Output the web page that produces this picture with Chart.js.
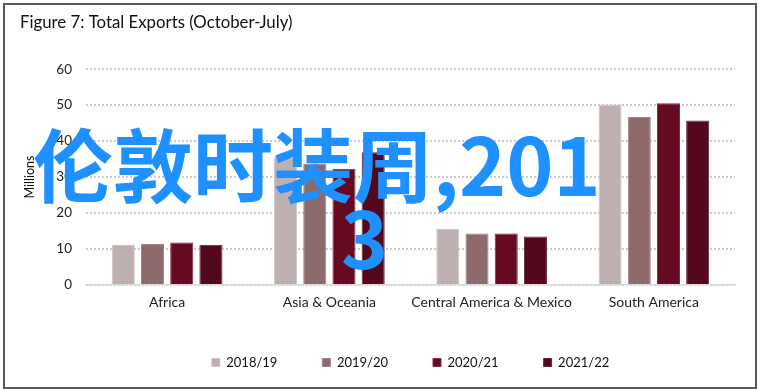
<!DOCTYPE html>
<html>
<head>
<meta charset="utf-8">
<script src="https://cdn.jsdelivr.net/npm/chart.js@4/dist/chart.umd.min.js"></script>
<style>
  html, body { margin: 0; padding: 0; background: #ffffff; }
  #wrap { position: relative; width: 760px; height: 391px; overflow: hidden; background: #fff; }
  #c { position: absolute; left: 0; top: 0; }
  #frame { position: absolute; left: 3px; top: 3px; width: 754px; height: 386px; box-sizing: border-box; border: 2px solid #5a5a5a; pointer-events: none; }
  .wm { position: absolute; color: #1E90FF; font-family: "Noto Sans CJK SC", sans-serif; font-weight: bold; font-size: 80px; line-height: 80px; white-space: nowrap; }
</style>
</head>
<body>
<div id="wrap">
  <canvas id="c" width="760" height="391"></canvas>
  <div id="frame"></div>
  <div class="wm" id="wm1" style="left:33px; top:121px;">伦敦时装周,201</div>
  <div class="wm" id="wm2" style="left:341px; top:194px;">3</div>
</div>
<script>
const categories = ['Africa', 'Asia & Oceania', 'Central America & Mexico', 'South America'];
const seriesLabels = ['2018/19', '2019/20', '2020/21', '2021/22'];
const values2018 = [11.1, 35.5, 15.6, 50.2];
const values2019 = [11.4, 33.8, 14.3, 46.7];
const values2020 = [11.8, 32.3, 14.3, 50.5];
const values2021 = [11.2, 36.9, 13.5, 45.7];
const yTickMin = 0, yTickMax = 60, yTickStep = 10;
const titleText = 'Figure 7: Total Exports (October-July)';
const yTitle = 'Millions';

const colors = ['#BEB0B0', '#8D6A6B', '#660A22', '#54081D'];
const borders = ['#cfc4c4', '#a08486', '#7d2a3f', '#6a2436'];
const seriesValues = [values2018, values2019, values2020, values2021];

const FONT = 'Lato, "Open Sans", sans-serif';

new Chart(document.getElementById('c'), {
  type: 'bar',
  data: {
    labels: categories,
    datasets: seriesLabels.map((lab, i) => ({
      label: lab,
      data: seriesValues[i],
      backgroundColor: colors[i],
      borderColor: borders[i],
      borderWidth: 1,
      categoryPercentage: 0.72,
      barPercentage: 0.79
    }))
  },
  options: {
    responsive: false,
    animation: false,
    devicePixelRatio: 1,
    layout: { padding: { left: 20, right: 25, top: 0, bottom: 12 } },
    plugins: {
      title: {
        display: true,
        text: titleText,
        align: 'start',
        color: '#111',
        font: { family: FONT, size: 16.8, weight: 'normal' },
        padding: { top: 13, bottom: 36 }
      },
      legend: {
        display: true,
        position: 'bottom',
        fullSize: false,
        labels: {
          boxWidth: 8,
          boxHeight: 8,
          padding: 45,
          color: '#111',
          font: { family: FONT, size: 13 }
        }
      },
      tooltip: { enabled: false }
    },
    scales: {
      x: {
        grid: { display: false, drawTicks: false },
        border: { display: true, color: '#d9d9d9', width: 1.5 },
        ticks: { color: '#222', font: { family: FONT, size: 14 }, padding: 9, maxRotation: 0, minRotation: 0, autoSkip: false },
        afterFit: (s) => { s.height = 26; }
      },
      y: {
        min: yTickMin,
        max: yTickMax,
        ticks: { stepSize: yTickStep, color: '#222', font: { family: FONT, size: 13.5 }, padding: 14 },
        grid: { color: '#cccccc', lineWidth: 2, drawTicks: false },
        border: { display: false, dash: [2, 2] },
        title: { display: true, text: yTitle, color: '#111', font: { family: FONT, size: 12.5 }, padding: 2 },
        afterFit: (s) => { s.width = 66; }
      }
    }
  }
});
</script>
</body>
</html>
